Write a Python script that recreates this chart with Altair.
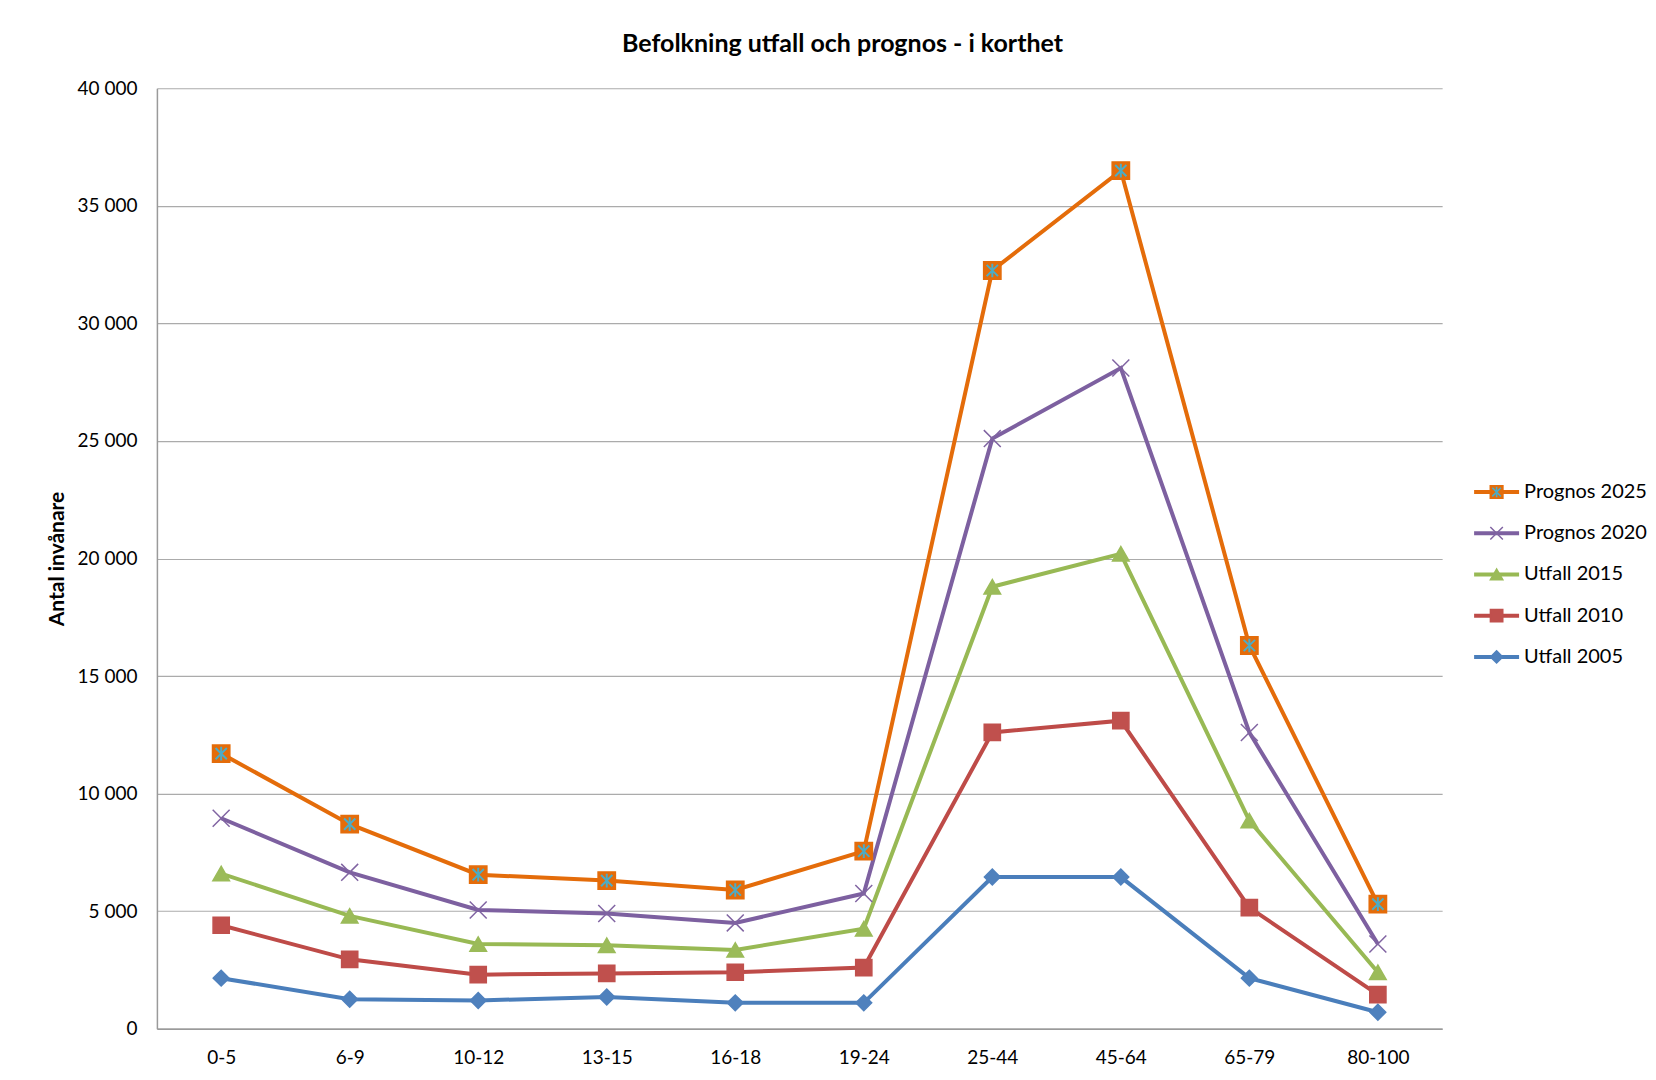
import altair as alt
import pandas as pd

# ---------------- data ----------------
age_groups = ["0-5", "6-9", "10-12", "13-15", "16-18", "19-24", "25-44", "45-64", "65-79", "80-100"]
series_names = ["Utfall 2005", "Utfall 2010", "Utfall 2015", "Prognos 2020", "Prognos 2025"]
utfall_2005 = [2150, 1250, 1200, 1350, 1100, 1100, 6450, 6450, 2150, 700]
utfall_2010 = [4400, 2950, 2300, 2350, 2400, 2600, 12600, 13100, 5150, 1450]
utfall_2015 = [6600, 4800, 3600, 3550, 3350, 4250, 18800, 20200, 8850, 2400]
prognos_2020 = [8950, 6650, 5050, 4900, 4500, 5750, 25100, 28100, 12600, 3600]
prognos_2025 = [11700, 8700, 6550, 6300, 5900, 7550, 32250, 36500, 16300, 5300]
y_ticks = [0, 5000, 10000, 15000, 20000, 25000, 30000, 35000, 40000]

chart_title = "Befolkning utfall och prognos - i korthet"
y_title = "Antal invånare"

# ---------------- styles ----------------
line_colors = ["#4A7EBB", "#BE4B48", "#98B954", "#7D60A0", "#E46C0A"]
marker_colors = ["#4F81BD", "#C0504D", "#9BBB59", "#8064A2", "#E46C0A"]
x_path = "M-1,-1L1,1M-1,1L1,-1"
star_path = "M0,-0.85L0,0.85M-0.7,-0.7L0.7,0.7M-0.7,0.7L0.7,-0.7"
marker_shapes = ["diamond", "square", "triangle-up", x_path, "square"]
marker_sizes = [250, 300, 300, 330, 310]
legend_sizes = [150, 160, 150, 170, 175]
FONT = "Lato"

values = [utfall_2005, utfall_2010, utfall_2015, prognos_2020, prognos_2025]
rows = []
for s, vals in zip(series_names, values):
    for a, v in zip(age_groups, vals):
        rows.append({"series": s, "age": a, "value": v})
df = pd.DataFrame(rows)

legend_order = list(reversed(series_names))
df_leg = pd.DataFrame({"series": legend_order})

W, H = 1286, 941

x_enc = alt.X("age:N", sort=age_groups,
              scale=alt.Scale(type="point", domain=age_groups, padding=0.5),
              axis=alt.Axis(title=None, labelAngle=0, ticks=False, grid=False,
                            domain=True, domainColor="#9A9A9A", domainWidth=1.5,
                            labelPadding=20, labelFontSize=19, labelColor="#000000",
                            labelFont=FONT))
y_enc = alt.Y("value:Q",
              scale=alt.Scale(domain=[0, 40000], nice=False, zero=True),
              axis=alt.Axis(title=y_title, values=y_ticks, ticks=False, grid=True,
                            gridColor="#ABABAB", gridWidth=1.2,
                            domain=True, domainColor="#9A9A9A", domainWidth=1.5,
                            labelPadding=20, labelFontSize=19, labelColor="#000000",
                            labelFont=FONT,
                            labelExpr="datum.value == 0 ? '0' : format(datum.value / 1000, 'd') + ' 000'",
                            titleFont=FONT, titleFontSize=21, titleFontWeight="bold",
                            titleColor="#000000", titlePadding=10))

base = alt.Chart(df)

lines = base.mark_line(strokeWidth=4).encode(
    x=x_enc, y=y_enc,
    color=alt.Color("series:N", scale=alt.Scale(domain=series_names, range=line_colors), legend=None),
)

points = base.mark_point(filled=True, opacity=1, strokeWidth=1.5).encode(
    x=x_enc, y=y_enc,
    shape=alt.Shape("series:N", scale=alt.Scale(domain=series_names, range=marker_shapes), legend=None),
    fill=alt.Fill("series:N", scale=alt.Scale(domain=series_names, range=marker_colors), legend=None),
    stroke=alt.Stroke("series:N", scale=alt.Scale(domain=series_names, range=marker_colors), legend=None),
    size=alt.Size("series:N", scale=alt.Scale(domain=series_names, range=marker_sizes), legend=None),
)

stars = base.transform_filter(alt.datum.series == "Prognos 2025").mark_point(
    shape=star_path, filled=False, stroke="#4BACC6", strokeWidth=2, size=260, opacity=1
).encode(x=x_enc, y=y_enc)

main = alt.layer(lines, points, stars).properties(width=W, height=H)

# ---------------- legend panel ----------------
leg_y = alt.Y("series:N", scale=alt.Scale(type="point", domain=legend_order, range=[404, 569], padding=0),
              axis=None)
leg_base = alt.Chart(df_leg)
leg_line = leg_base.mark_rule(strokeWidth=4).encode(
    x=alt.X(datum=0, scale=alt.Scale(domain=[0, 1]), axis=None),
    x2=alt.X2(datum=1),
    y=leg_y,
    color=alt.Color("series:N", scale=alt.Scale(domain=series_names, range=line_colors), legend=None),
)
leg_pts = leg_base.mark_point(filled=True, opacity=1, strokeWidth=1.5).encode(
    x=alt.X(datum=0.5, scale=alt.Scale(domain=[0, 1]), axis=None),
    y=leg_y,
    shape=alt.Shape("series:N", scale=alt.Scale(domain=series_names, range=marker_shapes), legend=None),
    fill=alt.Fill("series:N", scale=alt.Scale(domain=series_names, range=marker_colors), legend=None),
    stroke=alt.Stroke("series:N", scale=alt.Scale(domain=series_names, range=marker_colors), legend=None),
    size=alt.Size("series:N", scale=alt.Scale(domain=series_names, range=legend_sizes), legend=None),
)
leg_star = leg_base.transform_filter(alt.datum.series == "Prognos 2025").mark_point(
    shape=star_path, filled=False, stroke="#4BACC6", strokeWidth=1.6, size=150, opacity=1
).encode(x=alt.X(datum=0.5, scale=alt.Scale(domain=[0, 1]), axis=None), y=leg_y)
leg_text = leg_base.mark_text(align="left", baseline="middle", dx=5, fontSize=20,
                              font=FONT, color="#000000").encode(
    x=alt.X(datum=1, scale=alt.Scale(domain=[0, 1]), axis=None),
    y=leg_y,
    text="series:N",
)
legend_panel = alt.layer(leg_line, leg_pts, leg_star, leg_text).properties(width=45, height=H)

chart = alt.hconcat(main, legend_panel, spacing=30).resolve_scale(
    color="independent", fill="independent", stroke="independent",
    shape="independent", size="independent", x="independent", y="independent"
).properties(
    title=alt.Title(chart_title, font=FONT, fontSize=25, fontWeight="bold", color="#000000",
                    anchor="middle", offset=22, dx=-4),
    padding={"left": 38, "top": 24, "right": 0, "bottom": 2},
).configure_view(stroke=None)

chart.save("out.html", embed_options={"renderer": "svg", "actions": False})
